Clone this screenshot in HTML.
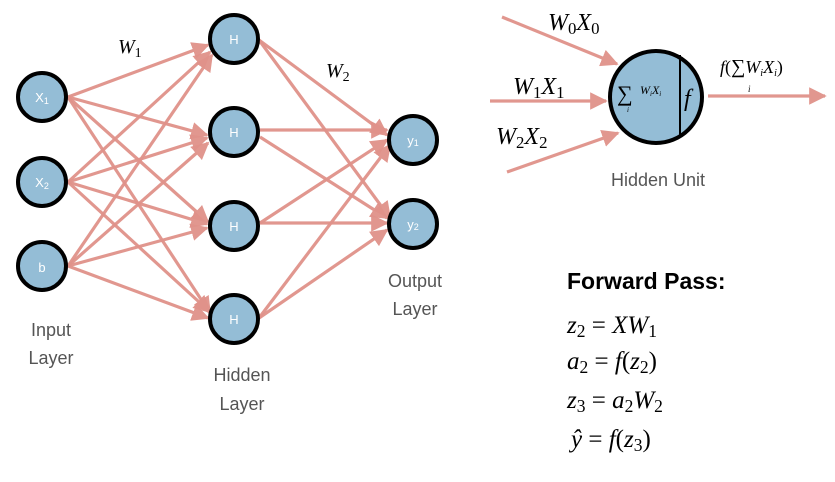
<!DOCTYPE html>
<html><head><meta charset="utf-8"><style>
html,body{margin:0;padding:0;background:#fff;}
svg{display:block;}
.n{fill:#94bdd6;stroke:#000;stroke-width:4;}
.e{stroke:#e0928a;stroke-width:3.2;fill:none;marker-end:url(#a);opacity:.95}
.l{font-family:"Liberation Sans",sans-serif;fill:#fff;font-size:13px;text-anchor:middle;}
.g{font-family:"Liberation Sans",sans-serif;fill:#555;font-size:18px;text-anchor:middle;}
.m{font-family:"Liberation Serif",serif;font-style:italic;fill:#000;}
.s{font-style:normal;font-size:0.7em;}
</style></head><body>
<svg width="835" height="482" viewBox="0 0 835 482">
<defs><marker id="a" viewBox="0 0 10 10" refX="9" refY="5" markerWidth="5.5" markerHeight="5.5" orient="auto" markerUnits="strokeWidth"><path d="M0,0 L10,5 L0,10 z" fill="#e0928a"/></marker></defs>
<g>
<line class="e" x1="68" y1="97" x2="208" y2="45"/>
<line class="e" x1="68" y1="97" x2="207" y2="135"/>
<line class="e" x1="68" y1="97" x2="208" y2="222"/>
<line class="e" x1="68" y1="97" x2="210" y2="313"/>
<line class="e" x1="68" y1="182" x2="210" y2="52"/>
<line class="e" x1="68" y1="182" x2="207" y2="138"/>
<line class="e" x1="68" y1="182" x2="207" y2="224"/>
<line class="e" x1="68" y1="182" x2="210" y2="312"/>
<line class="e" x1="68" y1="266" x2="212" y2="55"/>
<line class="e" x1="68" y1="266" x2="208" y2="143"/>
<line class="e" x1="68" y1="266" x2="207" y2="228"/>
<line class="e" x1="68" y1="266" x2="208" y2="318"/>
<line class="e" x1="259" y1="40" x2="387" y2="135"/>
<line class="e" x1="259" y1="40" x2="390" y2="218"/>
<line class="e" x1="260" y1="130" x2="387" y2="130"/>
<line class="e" x1="260" y1="137" x2="387" y2="218"/>
<line class="e" x1="260" y1="223" x2="387" y2="140"/>
<line class="e" x1="260" y1="223" x2="387" y2="223"/>
<line class="e" x1="259" y1="318" x2="390" y2="145"/>
<line class="e" x1="259" y1="318" x2="387" y2="230"/>
</g>
<circle class="n" cx="42" cy="97" r="24"/><text class="l" x="42" y="102">X<tspan font-size="9" dy="2">1</tspan></text>
<circle class="n" cx="42" cy="182" r="24"/><text class="l" x="42" y="187">X<tspan font-size="9" dy="2">2</tspan></text>
<circle class="n" cx="42" cy="266" r="24"/><text class="l" x="42" y="272">b</text>
<circle class="n" cx="234" cy="39" r="24"/><text class="l" x="234" y="44">H</text>
<circle class="n" cx="234" cy="132" r="24"/><text class="l" x="234" y="137">H</text>
<circle class="n" cx="234" cy="226" r="24"/><text class="l" x="234" y="231">H</text>
<circle class="n" cx="234" cy="319" r="24"/><text class="l" x="234" y="324">H</text>
<circle class="n" cx="413" cy="140" r="24"/><text class="l" x="413" y="145">y<tspan font-size="9" dy="1">1</tspan></text>
<circle class="n" cx="413" cy="224" r="24"/><text class="l" x="413" y="229">y<tspan font-size="9" dy="1">2</tspan></text>
<text class="m" x="118" y="53" font-size="20">W<tspan class="s" dy="4">1</tspan></text>
<text class="m" x="326" y="77" font-size="20">W<tspan class="s" dy="4">2</tspan></text>
<text class="g" x="51" y="336">Input</text><text class="g" x="51" y="364">Layer</text>
<text class="g" x="242" y="381">Hidden</text><text class="g" x="242" y="410">Layer</text>
<text class="g" x="415" y="287">Output</text><text class="g" x="415" y="315">Layer</text>
<line class="e" x1="502" y1="17" x2="617" y2="64"/>
<line class="e" x1="490" y1="101" x2="606" y2="101"/>
<line class="e" x1="507" y1="172" x2="618" y2="133"/>
<line class="e" x1="708" y1="96" x2="825" y2="96"/>
<circle class="n" cx="656" cy="97" r="46"/>
<line x1="680" y1="55" x2="680" y2="137" stroke="#000" stroke-width="2"/>
<text class="m" x="617" y="101" font-size="22" font-style="normal">∑</text>
<text class="m" x="627" y="112" font-size="7">i</text>
<text class="m" x="640" y="94" font-size="12">W<tspan font-size="7" dy="2">i</tspan><tspan dy="-2">X</tspan><tspan font-size="7" dy="2">i</tspan></text>
<text class="m" x="684" y="106" font-size="24">f</text>
<text class="m" x="548" y="30" font-size="24">W<tspan class="s" dy="4">0</tspan><tspan dy="-4">X</tspan><tspan class="s" dy="4">0</tspan></text>
<text class="m" x="513" y="94" font-size="24">W<tspan class="s" dy="4">1</tspan><tspan dy="-4">X</tspan><tspan class="s" dy="4">1</tspan></text>
<text class="m" x="496" y="144" font-size="24">W<tspan class="s" dy="4">2</tspan><tspan dy="-4">X</tspan><tspan class="s" dy="4">2</tspan></text>
<text class="m" x="720" y="73" font-size="18">f<tspan font-style="normal">(</tspan><tspan font-style="normal" font-size="20">∑</tspan>W<tspan font-size="10" dy="3">i</tspan><tspan dy="-3">X</tspan><tspan font-size="10" dy="3">i</tspan><tspan dy="-3" font-style="normal">)</tspan></text>
<text class="m" x="748" y="92" font-size="9">i</text>
<text class="g" x="658" y="186">Hidden Unit</text>
<text x="567" y="289" font-family="Liberation Sans,sans-serif" font-weight="bold" font-size="23" fill="#000">Forward Pass:</text>
<text class="m" x="567" y="333" font-size="25">z<tspan class="s" dy="4">2</tspan><tspan dy="-4" font-style="normal"> = </tspan>XW<tspan class="s" dy="4">1</tspan></text>
<text class="m" x="567" y="369" font-size="25">a<tspan class="s" dy="4">2</tspan><tspan dy="-4" font-style="normal"> = </tspan>f<tspan font-style="normal">(</tspan>z<tspan class="s" dy="4">2</tspan><tspan dy="-4" font-style="normal">)</tspan></text>
<text class="m" x="567" y="408" font-size="25">z<tspan class="s" dy="4">3</tspan><tspan dy="-4" font-style="normal"> = </tspan>a<tspan class="s" dy="4">2</tspan><tspan dy="-4">W</tspan><tspan class="s" dy="4">2</tspan></text>
<text class="m" x="571" y="447" font-size="25">ŷ<tspan font-style="normal"> = </tspan>f<tspan font-style="normal">(</tspan>z<tspan class="s" dy="4">3</tspan><tspan dy="-4" font-style="normal">)</tspan></text>
</svg>
</body></html>
